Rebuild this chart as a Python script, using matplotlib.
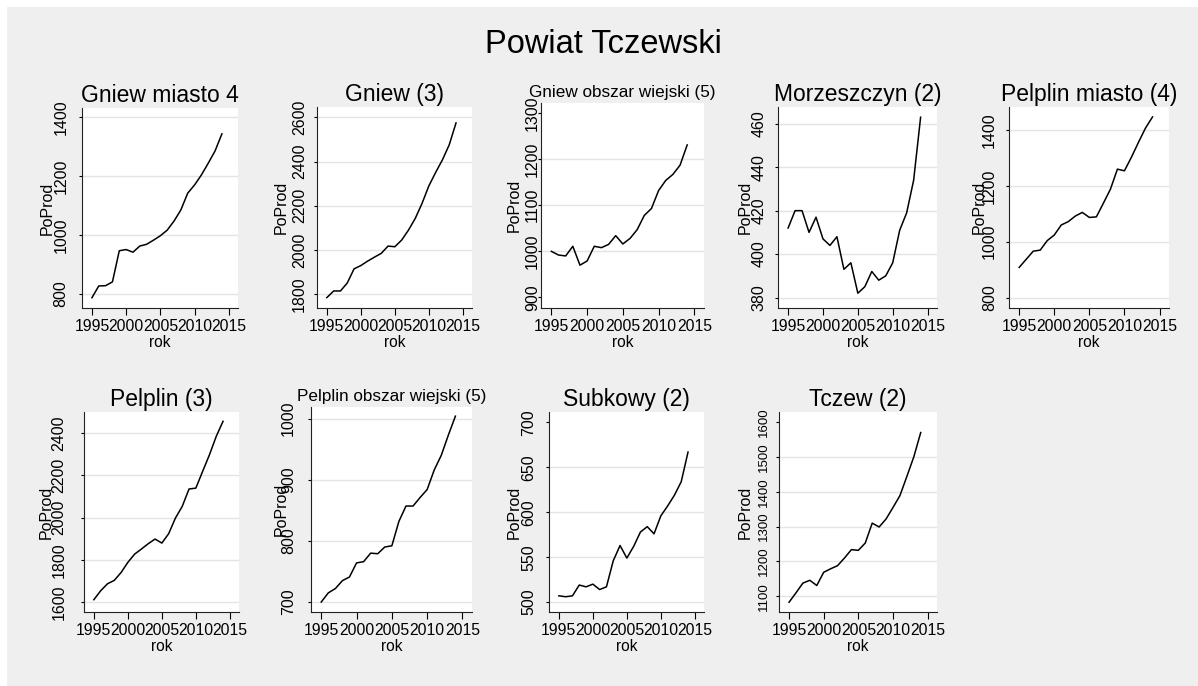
import matplotlib.pyplot as plt
from matplotlib import font_manager
from matplotlib.patches import Rectangle

years = list(range(1995, 2015))

gniew_miasto = [786, 826, 827, 840, 946, 950, 941, 962, 968, 982,
                997, 1016, 1047, 1085, 1142, 1170, 1204, 1244, 1286, 1344]
gniew = [1785, 1815, 1815, 1851, 1915, 1930, 1950, 1968, 1985, 2018,
         2015, 2045, 2090, 2143, 2211, 2290, 2351, 2408, 2476, 2575]
gniew_wies = [1000, 992, 990, 1011, 970, 979, 1011, 1008, 1015, 1034,
              1016, 1028, 1047, 1078, 1093, 1132, 1154, 1167, 1187, 1231]
morzeszczyn = [412, 420, 420, 410, 417, 407, 404, 408, 393, 396,
               382, 385, 392, 388, 390, 396, 411, 419, 434, 463]
pelplin_miasto = [908, 937, 966, 970, 1004, 1024, 1060, 1072, 1092, 1105,
                  1087, 1089, 1138, 1188, 1260, 1254, 1303, 1356, 1407, 1447]
pelplin = [1613, 1655, 1688, 1704, 1741, 1789, 1828, 1852, 1877, 1899,
           1880, 1924, 1998, 2053, 2135, 2139, 2218, 2296, 2383, 2454]
pelplin_wies = [700, 715, 722, 735, 741, 764, 766, 780, 779, 790,
                792, 832, 857, 857, 871, 884, 916, 940, 973, 1004]
subkowy = [507, 506, 507, 519, 517, 520, 514, 517, 546, 563,
           549, 562, 578, 584, 576, 596, 607, 619, 634, 667]
tczew = [1083, 1110, 1138, 1146, 1131, 1169, 1179, 1188, 1210, 1234,
         1232, 1253, 1310, 1299, 1322, 1355, 1389, 1444, 1500, 1570]

series = [gniew_miasto, gniew, gniew_wies, morzeszczyn, pelplin_miasto,
          pelplin, pelplin_wies, subkowy, tczew]
titles = ["Gniew miasto 4", "Gniew (3)", "Gniew obszar wiejski (5)",
          "Morzeszczyn (2)", "Pelplin miasto (4)", "Pelplin (3)",
          "Pelplin obszar wiejski (5)", "Subkowy (2)", "Tczew (2)"]
yticks = [[800, 1000, 1200, 1400], [1800, 2000, 2200, 2400, 2600],
          [900, 1000, 1100, 1200, 1300], [380, 400, 420, 440, 460],
          [800, 1000, 1200, 1400], [1600, 1800, 2000, 2200, 2400],
          [700, 800, 900, 1000], [500, 550, 600, 650, 700],
          [1100, 1200, 1300, 1400, 1500, 1600]]
xticks = [1995, 2000, 2005, 2010, 2015]

# layout in pixels: (left, top, right, bottom), ylim, ytick pad px, ylabel offset px
layout = [
    ((82, 108, 238, 308), (751, 1432), 9.8, -34.5),
    ((317, 107, 472, 308), (1738, 2647), 6.5, -35.7),
    ((541, 103, 704, 308), (877, 1322), -2.5, -26.7),
    ((778, 107, 937, 308), (375.2, 467.7), 8.2, -32.8),
    ((1009, 107, 1169, 308), (762.6, 1482.6), 8.5, -29.7),
    ((84, 412, 239, 612), (1555, 2498), 14.2, -37.5),
    ((311, 407, 472, 612), (683.7, 1019), 11.5, -30),
    ((549, 412, 704, 612), (489, 711.6), 9.5, -35),
    ((779, 412, 937, 612), (1055, 1629), 5.5, -33.5),
]
small_title = [False, False, True, False, False, False, True, False, False]
ytick_size = [11.5, 11.5, 11.5, 11.5, 11.5, 11.5, 11.5, 11.5, 9.5]
no_grid = [[], [], [900, 1300], [], [], [], [], [700], [1600]]

plt.rcParams["font.family"] = ["Liberation Sans", "DejaVu Sans"]
names = {f.name for f in font_manager.fontManager.ttflist}
ytick_family = "Liberation Sans Narrow" if "Liberation Sans Narrow" in names else "Liberation Sans"

W, H = 1198, 686
fig = plt.figure(figsize=(W / 100, H / 100), dpi=100, facecolor="white")
fig.patches.append(Rectangle((7 / W, 0), 1 - 7 / W, 1 - 7 / H, transform=fig.transFigure,
                             facecolor="#efefef", edgecolor="none", zorder=-5))
fig.text(603 / W, 1 - 53.3 / H, "Powiat Tczewski", ha="center", va="baseline", fontsize=23.5)

for i, vals in enumerate(series):
    (l, t, r, b), ylim, ypad, yoff = layout[i]
    ax = fig.add_axes([l / W, 1 - b / H, (r - l) / W, (b - t) / H])
    ax.set_facecolor("white")
    for v in yticks[i]:
        if v not in no_grid[i]:
            ax.axhline(v, color="#e4e4e4", lw=1.0, zorder=0)
    ax.plot(years, vals, color="black", lw=1.1)
    ax.set_xlim(1993.55, 2016.35)
    ax.set_ylim(ylim)
    ax.set_xticks(xticks)
    ax.set_yticks(yticks[i])
    for s in ("top", "right"):
        ax.spines[s].set_visible(False)
    for s in ("left", "bottom"):
        ax.spines[s].set_linewidth(0.8)
        ax.spines[s].set_color("#222222")
    ax.tick_params(axis="x", length=4.7, width=0.8, pad=3.5, labelsize=11.3)
    ax.tick_params(axis="y", length=2.5, width=0.8, pad=ypad * 0.72,
                   labelsize=ytick_size[i], labelrotation=90)
    for lbl in ax.get_yticklabels():
        lbl.set_va("center")
        lbl.set_family(ytick_family)
    ax.set_title(titles[i], fontsize=12.3 if small_title[i] else 16.5, pad=4.3)
    ax.set_xlabel("rok", fontsize=11.2)
    ax.xaxis.label.set_va("baseline")
    ax.xaxis.set_label_coords(0.5, -39 / (b - t))
    ax.set_ylabel("PoProd", fontsize=11.5)
    ax.yaxis.label.set_va("center")
    ax.yaxis.set_label_coords(yoff / (r - l), 0.5)

fig.savefig("out.png", dpi=100, facecolor=fig.get_facecolor())
